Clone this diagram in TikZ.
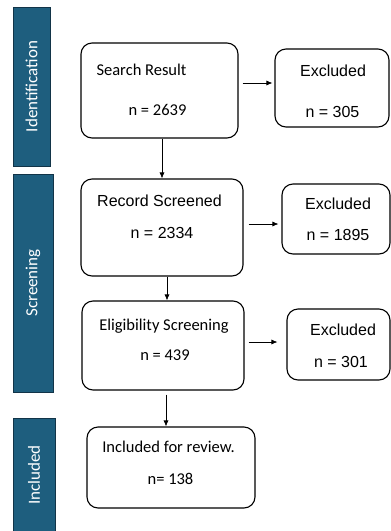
\documentclass[tikz,border=0pt]{standalone}
\usepackage{fontspec}
\setmainfont{Carlito}
\newfontfamily\arialfont{Liberation Sans}
\usetikzlibrary{arrows.meta}
\definecolor{barfill}{RGB}{30,94,126}
\definecolor{barline}{RGB}{18,52,72}
\tikzset{
  stagebar/.style={draw=barline, fill=barfill, line width=0.8pt, text=white, rotate=90, inner sep=0pt, font=\fontsize{17}{20}\selectfont},
  flowbox/.style={draw, rounded corners=11pt, line width=1.1pt, inner sep=0pt},
  calibri/.style={anchor=base, font=\fontsize{16.5}{20}\selectfont},
  arial/.style={anchor=base, font=\arialfont\fontsize{16}{19}\selectfont},
  flowarrow/.style={-{Latex[length=6pt,width=5pt]}, line width=0.7pt}
}

\begin{document}
\begin{tikzpicture}[x=1pt, y=-1pt]
    % Fix the page to the size of the figure
    \useasboundingbox (0,0) rectangle (391,531);
    % Draw the stage bars on the left
    \node[stagebar, minimum width=159pt, minimum height=37pt] (idbar) at (31.5,86.5) {Identification};
    \node[stagebar, minimum width=218pt, minimum height=40pt] (scrbar) at (33,283) {Screening};
    \node[stagebar, minimum width=114pt, minimum height=42pt] (incbar) at (34,475) {Included};
    % Draw the boxes of the main flow
    \node[flowbox, minimum width=157pt, minimum height=95pt] (search) at (159.5,90.5) {};
    \node[flowbox, minimum width=162pt, minimum height=97pt] (record) at (162,227.5) {};
    \node[flowbox, minimum width=162pt, minimum height=89pt] (elig) at (163,345.5) {};
    \node[flowbox, minimum width=168pt, minimum height=81pt] (incl) at (171,467.5) {};
    % Draw the boxes of the excluded records
    \node[flowbox, minimum width=114pt, minimum height=78pt] (exclA) at (332,88) {};
    \node[flowbox, minimum width=108pt, minimum height=70pt] (exclB) at (336,219) {};
    \node[flowbox, minimum width=103pt, minimum height=71pt] (exclC) at (338.5,344.5) {};
    % Write the texts in the boxes
    \node[calibri] (searchT) at (141.5,75) {Search Result};
    \node[calibri] (searchN) at (157.5,115) {n = 2639};
    \node[arial] (recordT) at (159.5,206) {Record Screened};
    \node[arial] (recordN) at (162,238) {n = 2334};
    \node[calibri] (eligT) at (164,330) {Eligibility Screening};
    \node[calibri] (eligN) at (165,360) {n = 439};
    \node[calibri] (inclT) at (168.5,452) {Included for review.};
    \node[calibri] (inclN) at (170.5,484) {n= 138};
    \node[arial] (exclAT) at (333,76) {Excluded};
    \node[arial] (exclAN) at (332.5,117) {n = 305};
    \node[arial] (exclBT) at (338,209) {Excluded};
    \node[arial] (exclBN) at (338,240) {n = 1895};
    \node[arial] (exclCT) at (343,335) {Excluded};
    \node[arial] (exclCN) at (341,367) {n = 301};
    % Draw the arrows down the flow
    \draw[flowarrow] (search.south -| record.north) -- (record.north);
    \draw[flowarrow] ([xshift=5pt]record.south) -- ([xshift=5pt]record.south |- elig.north);
    \draw[flowarrow, shorten <=4pt] ([xshift=-5pt]incl.north |- elig.south) -- ([xshift=-5pt]incl.north);
    % Draw the arrows to the excluded boxes
    \draw[flowarrow, shorten <=4pt, shorten >=2pt] ([yshift=5pt]exclA.west -| search.east) -- ([yshift=5pt]exclA.west);
    \draw[flowarrow, shorten <=5pt, shorten >=3pt] ([yshift=-5pt]exclB.west -| record.east) -- ([yshift=-5pt]exclB.west);
    \draw[flowarrow, shorten <=4pt, shorten >=9pt] ([yshift=2.5pt]exclC.west -| elig.east) -- ([yshift=2.5pt]exclC.west);
  \end{tikzpicture}
\end{document}
